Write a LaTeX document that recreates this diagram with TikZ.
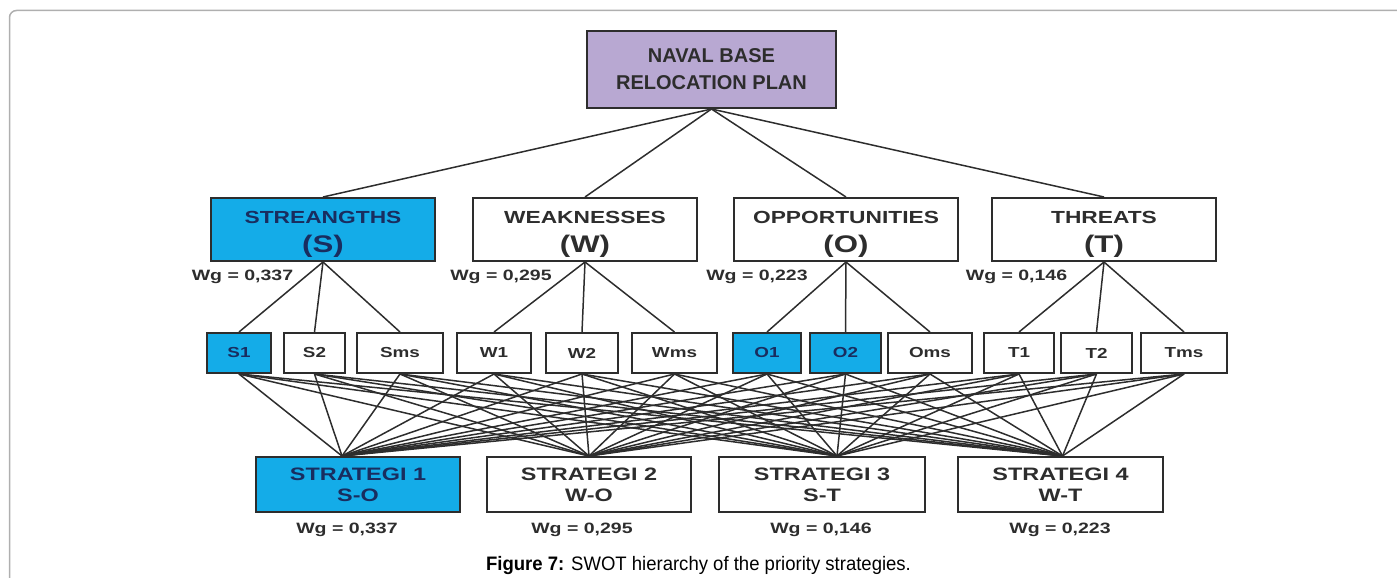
\documentclass[tikz,border=0pt]{standalone}
\usepackage{fontspec}
\setmainfont{Liberation Sans}
\newfontfamily\widefont{Liberation Sans}[FakeStretch=1.3]
\newfontfamily\narrowfont{Liberation Sans}[FakeStretch=0.95]
\definecolor{planfill}{RGB}{184,168,210}
\definecolor{hlfill}{RGB}{20,172,232}
\definecolor{ink}{RGB}{45,45,45}
\definecolor{navy}{RGB}{25,45,95}
\definecolor{framegray}{RGB}{175,175,175}
\newcommand{\swotlabel}[2]{{\fontsize{17.5}{19}\selectfont\rule{0pt}{22pt}#1}\\[10pt]{\fontsize{24}{24}\selectfont #2}}
\tikzset{
  plan/.style={draw=ink, line width=2pt, fill=planfill, minimum width=249pt, minimum height=77pt,
    inner sep=0pt, align=center, text=ink, font=\bfseries\fontsize{20}{27}\selectfont},
  crit/.style={draw=ink, line width=2pt, fill=white, minimum width=224pt, minimum height=63pt,
    inner sep=0pt, align=center, text=ink, font=\widefont\bfseries},
  sub/.style={draw=ink, line width=2pt, fill=white, minimum height=40pt, inner sep=0pt,
    text=ink, font=\widefont\bfseries\fontsize{14.5}{16}\selectfont},
  strat/.style={draw=ink, line width=2pt, fill=white, minimum height=55pt, inner sep=0pt,
    align=center, text=ink, font=\widefont\bfseries\fontsize{18}{21}\selectfont},
  wg/.style={inner sep=0pt, text=ink, font=\widefont\bfseries\fontsize{15}{17}\selectfont},
  hl/.style={fill=hlfill, text=navy},
  link/.style={draw=ink, line width=1.5pt},
}
\begin{document}
\begin{tikzpicture}[x=1pt, y=-1pt]
      \useasboundingbox (0,0) rectangle (1397,578);
      \draw[framegray, line width=1.5pt, rounded corners=7pt] (9.5,578) -- (9.5,10.5) -- (1397,10.5);
      \draw
        (711.5,69.5) node[plan] (plan){NAVAL BASE\\RELOCATION PLAN}
        (323,229.5) node[crit, hl] (S){\swotlabel{STREANGTHS}{(S)}}
        (585,229.5) node[crit] (W){\swotlabel{WEAKNESSES}{(W)}}
        (846,229.5) node[crit] (O){\swotlabel{OPPORTUNITIES}{(O)}}
        (1104,229.5) node[crit] (T){\swotlabel{THREATS}{(T)}};
      \draw
        (242.5,277) node[wg] (wgS){Wg = 0,337}
        (501,277) node[wg] (wgW){Wg = 0,295}
        (757,277) node[wg] (wgO){Wg = 0,223}
        (1016.5,277) node[wg] (wgT){Wg = 0,146};
      \draw
        (239,353) node[sub, hl, minimum width=64pt] (s1){S1}
        (314.5,353) node[sub, minimum width=61pt] (s2){S2}
        (400,353) node[sub, minimum width=86pt] (sms){Sms}
        (494,353) node[sub, minimum width=74pt] (w1){W1}
        (582,353) node[sub, minimum width=72pt] (w2){W2}
        (674.5,353) node[sub, minimum width=85pt] (wms){Wms}
        (767,353) node[sub, hl, minimum width=68pt] (o1){O1}
        (845.5,353) node[sub, hl, minimum width=71pt] (o2){O2}
        (930,353) node[sub, minimum width=84pt] (oms){Oms}
        (1019,353) node[sub, minimum width=70pt] (t1){T1}
        (1096.5,353) node[sub, minimum width=71pt] (t2){T2}
        (1184,353) node[sub, minimum width=86pt] (tms){Tms};
      \draw
        (358,484.5) node[strat, hl, minimum width=204pt] (st1){STRATEGI 1\\S-O}
        (589,484.5) node[strat, minimum width=204pt] (st2){STRATEGI 2\\W-O}
        (822,484.5) node[strat, minimum width=206pt] (st3){STRATEGI 3\\S-T}
        (1060.5,484.5) node[strat, minimum width=205pt] (st4){STRATEGI 4\\W-T};
      \draw
        (347,530) node[wg] (wg1){Wg = 0,337}
        (582,530) node[wg] (wg2){Wg = 0,295}
        (821,530) node[wg] (wg3){Wg = 0,146}
        (1060,530) node[wg] (wg4){Wg = 0,223};
      \node[text=black, font=\narrowfont\fontsize{19.5}{21}\selectfont] (caption) at (698.5,565)
        {{\bfseries Figure 7:} SWOT hierarchy of the priority strategies.};
      \coordinate (st1top) at ([xshift=-16pt]st1.north);
      \coordinate (st2top) at (st2.north);
      \coordinate (st3top) at ([xshift=15pt]st3.north);
      \coordinate (st4top) at ([xshift=2pt]st4.north);
      \begin{scope}[link]
        \draw (plan.south) to (S.north);
        \draw (plan.south) to (W.north);
        \draw (plan.south) to (O.north);
        \draw (plan.south) to (T.north);
        \draw (S.south) to (s1.north);
        \draw (S.south) to (s2.north);
        \draw (S.south) to (sms.north);
        \draw (W.south) to (w1.north);
        \draw (W.south) to (w2.north);
        \draw (W.south) to (wms.north);
        \draw (O.south) to (o1.north);
        \draw (O.south) to (o2.north);
        \draw (O.south) to (oms.north);
        \draw (T.south) to (t1.north);
        \draw (T.south) to (t2.north);
        \draw (T.south) to (tms.north);
        \draw (s1.south) to (st1top);
        \draw (s1.south) to (st2top);
        \draw (s1.south) to (st3top);
        \draw (s1.south) to (st4top);
        \draw (s2.south) to (st1top);
        \draw (s2.south) to (st2top);
        \draw (s2.south) to (st3top);
        \draw (s2.south) to (st4top);
        \draw (sms.south) to (st1top);
        \draw (sms.south) to (st2top);
        \draw (sms.south) to (st3top);
        \draw (sms.south) to (st4top);
        \draw (w1.south) to (st1top);
        \draw (w1.south) to (st2top);
        \draw (w1.south) to (st3top);
        \draw (w1.south) to (st4top);
        \draw (w2.south) to (st1top);
        \draw (w2.south) to (st2top);
        \draw (w2.south) to (st3top);
        \draw (w2.south) to (st4top);
        \draw (wms.south) to (st1top);
        \draw (wms.south) to (st2top);
        \draw (wms.south) to (st3top);
        \draw (wms.south) to (st4top);
        \draw (o1.south) to (st1top);
        \draw (o1.south) to (st2top);
        \draw (o1.south) to (st3top);
        \draw (o1.south) to (st4top);
        \draw (o2.south) to (st1top);
        \draw (o2.south) to (st2top);
        \draw (o2.south) to (st3top);
        \draw (o2.south) to (st4top);
        \draw (oms.south) to (st1top);
        \draw (oms.south) to (st2top);
        \draw (oms.south) to (st3top);
        \draw (oms.south) to (st4top);
        \draw (t1.south) to (st1top);
        \draw (t1.south) to (st2top);
        \draw (t1.south) to (st3top);
        \draw (t1.south) to (st4top);
        \draw (t2.south) to (st1top);
        \draw (t2.south) to (st2top);
        \draw (t2.south) to (st3top);
        \draw (t2.south) to (st4top);
        \draw (tms.south) to (st1top);
        \draw (tms.south) to (st2top);
        \draw (tms.south) to (st3top);
        \draw (tms.south) to (st4top);
      \end{scope}
    \end{tikzpicture}
\end{document}
